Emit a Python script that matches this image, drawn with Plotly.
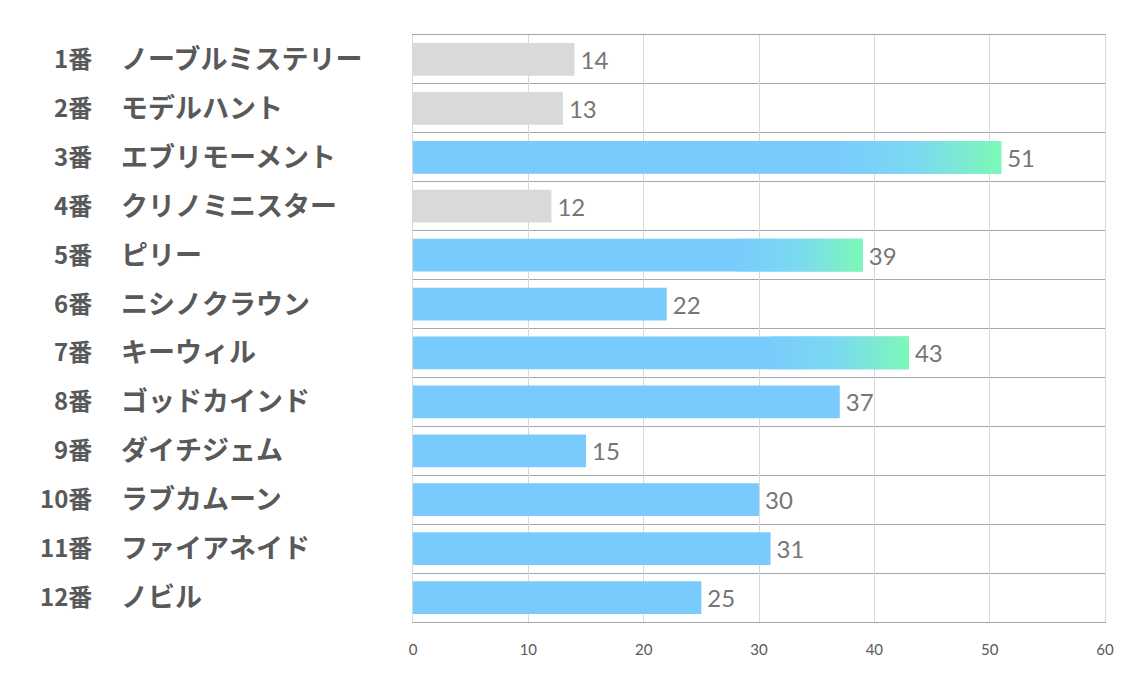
import plotly.graph_objects as go

numbers = ["1番", "2番", "3番", "4番", "5番", "6番", "7番", "8番", "9番", "10番", "11番", "12番"]
names = ["ノーブルミステリー", "モデルハント", "エブリモーメント", "クリノミニスター", "ピリー",
         "ニシノクラウン", "キーウィル", "ゴッドカインド", "ダイチジェム", "ラブカムーン",
         "ファイアネイド", "ノビル"]
values = [14, 13, 51, 12, 39, 22, 43, 37, 15, 30, 31, 25]
groups = ["grey", "grey", "top", "grey", "top", "blue", "top", "blue", "blue", "blue", "blue", "blue"]

GREY = "#d9d9d9"
BLUE = "#7acbfd"
GREEN = "#7cf9b6"
color_map = {"grey": GREY, "blue": BLUE, "top": BLUE}
BAR_W = 0.67
GRAD_FRAC = 0.72

ypos = list(range(len(values)))

fig = go.Figure()
fig.add_trace(go.Bar(
    x=values, y=ypos, orientation="h", width=BAR_W,
    marker=dict(color=[color_map[g] for g in groups], line=dict(width=0)),
    text=["\u2009" + str(v) for v in values], textposition="outside", cliponaxis=False,
    textfont=dict(family="Lato", size=24, color="#767676"),
    hoverinfo="skip", showlegend=False,
))

for i, (v, g) in enumerate(zip(values, groups)):
    if g != "top":
        continue
    x0 = v * GRAD_FRAC
    y0, y1 = i - BAR_W / 2, i + BAR_W / 2
    fig.add_trace(go.Scatter(
        x=[x0, v, v, x0, x0], y=[y0, y0, y1, y1, y0],
        mode="lines", fill="toself", line=dict(width=0, color="rgba(0,0,0,0)"),
        fillgradient=dict(type="horizontal", start=x0, stop=v,
                          colorscale=[[0, BLUE], [0.5, "#7bdaf0"], [1, GREEN]]),
        hoverinfo="skip", showlegend=False,
    ))

L, R, T, B = 413, 29, 35, 58
W, H = 1134, 680
pw = W - L - R

annotations = []
for i, (num, nm) in enumerate(zip(numbers, names)):
    annotations.append(dict(
        x=(94 - L) / pw, y=i, xref="paper", yref="y", text=num, showarrow=False,
        xanchor="right", yanchor="middle", yshift=2,
        font=dict(family="Noto Sans CJK JP", size=24, color="#595959", weight="bold"),
    ))
    annotations.append(dict(
        x=(119 - L) / pw, y=i, xref="paper", yref="y", text=nm, showarrow=False,
        xanchor="left", yanchor="middle", yshift=2,
        font=dict(family="Noto Sans CJK JP", size=27, color="#595959", weight="bold"),
    ))

fig.update_layout(
    width=W, height=H,
    margin=dict(l=L, r=R, t=T, b=B),
    paper_bgcolor="white", plot_bgcolor="white",
    bargap=1 - BAR_W,
    annotations=annotations,
    xaxis=dict(
        range=[0, 60], tickvals=[0, 10, 20, 30, 40, 50, 60],
        showgrid=True, gridcolor="#d9d9d9", gridwidth=1, zeroline=False,
        showline=True, linecolor="#a6a6a6", linewidth=1, mirror=True,
        ticks="", ticklabelstandoff=14,
        tickfont=dict(family="Lato", size=15, color="#595959"),
        fixedrange=True,
    ),
    yaxis=dict(
        range=[len(values) - 0.5, -0.5], tickvals=ypos, showticklabels=False,
        showgrid=False, zeroline=False,
        showline=True, linecolor="#d9d9d9", linewidth=1, mirror=True,
        minor=dict(tickvals=[k + 0.5 for k in range(-1, len(values))],
                   showgrid=True, gridcolor="#a6a6a6", gridwidth=1, ticks=""),
        fixedrange=True,
    ),
)

fig.write_html("out.html")
